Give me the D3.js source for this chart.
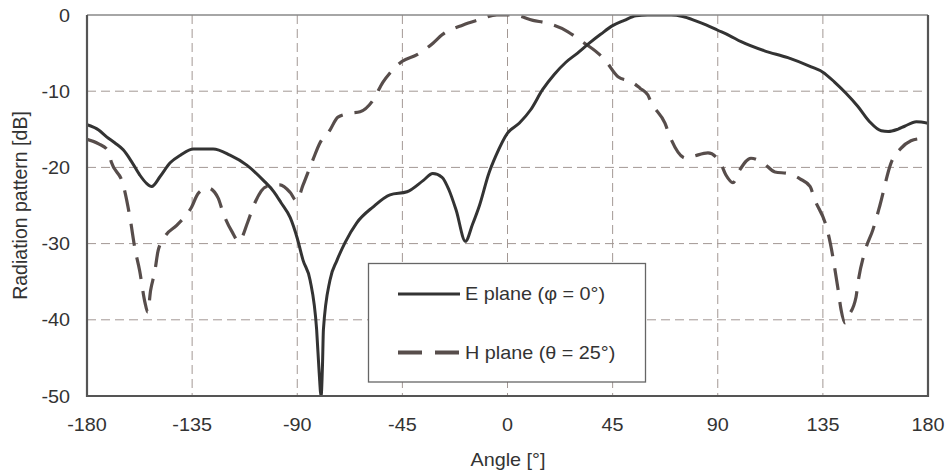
<!DOCTYPE html>
<html>
<head>
<meta charset="utf-8">
<script src="https://cdn.jsdelivr.net/npm/d3@7"></script>
<style>
  body { margin: 0; background: #fff; }
  text { font-family: Arial, "Liberation Sans", Helvetica, sans-serif; fill: #333; }
</style>
</head>
<body>
<script>
// values
const xTicks = [-180, -135, -90, -45, 0, 45, 90, 135, 180]
const yTicks = [0, -10, -20, -30, -40, -50]

const eAngle = [-180, -175, -171.6, -168, -164.5, -161, -157.4, -154.5, -152.3, -148.7, -144.4, -140, -134.4, -126,
  -118.8, -111.6, -104.5, -100, -97, -93, -90, -87.5, -84.5, -81.7, -80.6, -79.8, -79.2, -78.8, -76, -73, -69.6,
  -64.6, -57.6, -50.3, -43, -36, -32, -28, -25, -22, -18, -15, -12, -8, -5, 0, 5, 10, 15, 20, 25, 30, 35, 40, 45,
  50, 55, 60, 70, 75, 80, 85, 90, 95, 100, 110, 120, 130, 135, 140, 145, 150, 155, 160, 163, 167, 170, 175, 180]
const eGain = [-14.4, -15.1, -16, -16.8, -17.7, -19.2, -21, -22.1, -22.5, -21.2, -19.4, -18.4, -17.6, -17.6,
  -18.4, -19.7, -21.7, -23.2, -24.6, -26.6, -29.3, -32.2, -34.8, -41.3, -47, -50, -46, -41.3, -34.8, -32.2, -29.9,
  -27.3, -25.2, -23.6, -23.2, -21.7, -20.8, -21.3, -23, -25.6, -29.7, -27.5, -25, -20.8, -18.5, -15.5, -14.2, -12.4,
  -9.8, -7.8, -6.2, -5, -3.7, -2.5, -1.4, -0.7, -0.1, 0, 0, -0.2, -0.7, -1.3, -2, -2.7, -3.5, -4.7, -5.6, -6.8,
  -7.5, -8.8, -10.3, -12, -14, -15.2, -15.3, -15, -14.6, -14, -14.2]

const hAngle = [-180, -175, -171, -169.6, -164.5, -161.6, -159.4, -157.5, -155.2, -154, -152.8, -151, -149.6,
  -146.7, -141.6, -135.2, -132.4, -128.2, -123.9, -121.7, -118, -115, -111.1, -108.9, -103.1, -97.4, -93, -90.3,
  -87.5, -83.3, -80.3, -76, -72.6, -67.4, -63.1, -57.6, -53.3, -50.3, -45.2, -38.7, -31.9, -28, -19, -13, -4.5,
  2.4, 10.9, 17.3, 25.9, 31, 38.7, 41.7, 47.3, 53.3, 56.7, 60.1, 61.4, 67.4, 69.6, 76.4, 80, 85.8, 91, 93.5, 96.5,
  99.5, 104.2, 109.4, 114.5, 120.1, 125.2, 129.5, 131.6, 135.9, 137.2, 141.5, 142.8, 144.5, 145.8, 149.2, 150,
  153, 156.4, 159.4, 164.2, 168.4, 172.7, 177, 180]
const hGain = [-16.3, -16.9, -17.8, -19.3, -22.3, -26.6, -30.8, -33.5, -37.7, -39, -36.2, -33.7, -31, -29.1,
  -27.6, -25.2, -23.4, -22.7, -24, -26, -28.4, -29.7, -27.1, -25.2, -22.5, -22.3, -23.3, -24.4, -22.3, -19, -16.8,
  -15.1, -13.4, -12.9, -12.7, -11.2, -8.8, -7.6, -6.1, -5.2, -3.7, -2.6, -1.3, -0.7, 0, 0, -0.7, -1.1, -2.2, -3.3,
  -5, -5.9, -8.1, -8.8, -9.6, -10.5, -11.4, -14.2, -16, -18.8, -18.5, -18.1, -19.3, -21, -22, -20.3, -18.8, -19.4,
  -20.6, -20.8, -21.5, -22.5, -24.3, -27.2, -28.6, -36, -38.7, -40.4, -39.6, -37, -35.2, -31, -28.2, -25, -19.4,
  -17.5, -16.5, -16.2, -16.1]

const seriesNames = ["E plane (φ = 0°)", "H plane (θ = 25°)"]

function setattrs(shape, dict) {
    for (let [prop, val] of Object.entries(dict)) {
        shape.attr(prop, val)
    }
}

// text in the picture is a bit wider than plain Arial
function label(parent, x, y, str, anchor, size=18) {
    const t = parent.append("text").text(str)
    setattrs(t, {
        "transform": `translate(${x},${y}) scale(1.1,1)`,
        "text-anchor": anchor,
        "font-size": size
    })
    return t
}

const W = 948, H = 474
const svg = d3.select("body").append("svg")
setattrs(svg, {"width": W, "height": H})

const x = d3.scaleLinear().domain([-180, 180]).range([87, 928])
const y = d3.scaleLinear().domain([-50, 0]).range([396, 15])

const gridCol = "#a39894"
const grid = svg.append("g")
for (let v of xTicks.slice(1, -1)) {
    grid.append("line").call(l => setattrs(l, {
        "x1": x(v), "x2": x(v), "y1": y(0), "y2": y(-50),
        "stroke": gridCol, "stroke-width": 1, "stroke-dasharray": "9,5"
    }))
}
for (let v of yTicks.slice(1, -1)) {
    grid.append("line").call(l => setattrs(l, {
        "x1": x(-180), "x2": x(180), "y1": y(v), "y2": y(v),
        "stroke": gridCol, "stroke-width": 1, "stroke-dasharray": "9,5"
    }))
}

svg.append("clipPath").attr("id", "plotclip").append("rect")
    .call(r => setattrs(r, {"x": x(-180), "y": y(0), "width": x(180) - x(-180), "height": y(-50) - y(0) + 1}))

const line = d3.line().x(d => x(d[0])).y(d => y(d[1])).curve(d3.curveMonotoneX)

const ePts = d3.zip(eAngle, eGain)
const hPts = d3.zip(hAngle, hGain)

svg.append("path").datum(hPts).call(p => setattrs(p, {
    "d": line, "fill": "none", "stroke": "#574d4b", "stroke-width": 3.2,
    "stroke-dasharray": "22,12", "clip-path": "url(#plotclip)"
}))
svg.append("path").datum(ePts).call(p => setattrs(p, {
    "d": line, "fill": "none", "stroke": "#333", "stroke-width": 3,
    "stroke-linejoin": "round", "clip-path": "url(#plotclip)"
}))

// legend
const lg = svg.append("g")
lg.append("rect").call(r => setattrs(r, {
    "x": 368.5, "y": 263.5, "width": 277, "height": 118.5,
    "fill": "#fff", "stroke": "#666", "stroke-width": 1.3
}))
lg.append("line").call(l => setattrs(l, {
    "x1": 398, "x2": 460, "y1": 294, "y2": 294, "stroke": "#333", "stroke-width": 3
}))
lg.append("line").call(l => setattrs(l, {
    "x1": 398, "x2": 460, "y1": 352.5, "y2": 352.5, "stroke": "#574d4b", "stroke-width": 4,
    "stroke-dasharray": "24,13"
}))
label(lg, 465, 300, seriesNames[0], "start")
label(lg, 465, 358.5, seriesNames[1], "start")

// frame
svg.append("line").call(l => setattrs(l, {
    "x1": x(-180), "x2": x(180), "y1": y(0), "y2": y(0), "stroke": "#888", "stroke-width": 1.5
}))
svg.append("path").call(p => setattrs(p, {
    "d": `M${x(-180)},${y(0)} V${y(-50)} H${x(180)} V${y(0)}`,
    "fill": "none", "stroke": "#555", "stroke-width": 2.2
}))

// tick labels
for (let v of xTicks) label(svg, x(v), 431, String(v), "middle")
for (let v of yTicks) label(svg, 70, y(v) + 6.5, String(v), "end")

label(svg, 508, 466, "Angle [°]", "middle")
const yl = svg.append("text").text("Radiation pattern [dB]")
setattrs(yl, {
    "transform": `translate(27,${(y(0) + y(-50)) / 2}) rotate(-90)`,
    "text-anchor": "middle", "font-size": 19.5
})
</script>
</body>
</html>
